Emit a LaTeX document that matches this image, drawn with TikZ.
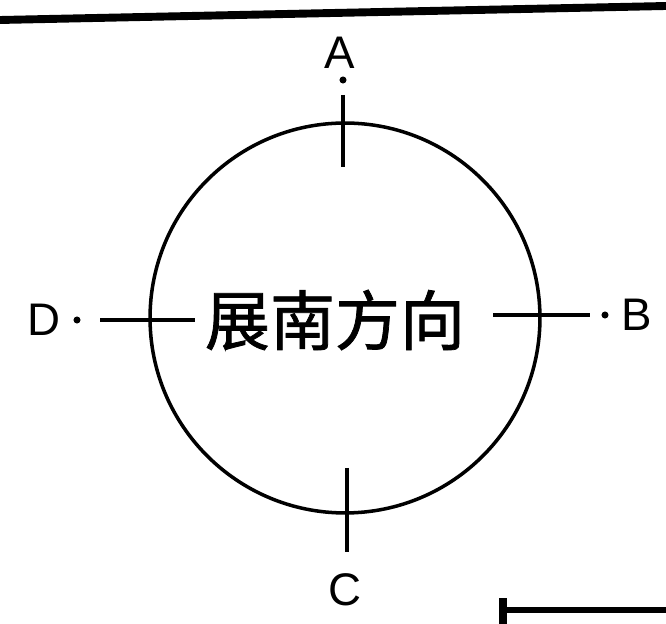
\documentclass[tikz,border=0pt]{standalone}
\usepackage{fontspec}
\setmainfont{Liberation Sans}
\newfontfamily\cjk[FakeBold=1.2]{Noto Sans CJK SC}
\usetikzlibrary{calc}

\begin{document}
\begin{tikzpicture}[x=0.02cm,y=-0.02cm,
  rim/.style={circle,draw,line width=2pt,minimum size=7.8cm,inner sep=0pt},
  axisline/.style={line width=2pt},
  lettr/.style={font=\fontsize{26}{26}\selectfont,inner sep=0pt},
  dirtext/.style={font=\cjk\fontsize{37}{37}\selectfont,inner sep=0pt}]
\useasboundingbox (0,0) rectangle (666,624);
% frame lines of the page
\draw[line width=4.5pt] (0,20) -- (666,6);
\draw[line width=3.5pt] (505,610) -- (666,610);
\draw[line width=4pt] (503,598) -- (503,624);
% the ring
\node[rim] (ring) at (345,318) {};
\node[dirtext] (dir) at (335,320) {展南方向};
% axis marks
\coordinate (topA) at (343,95);
\coordinate (topB) at (343,167);
\coordinate (botA) at (347,468);
\coordinate (botB) at (347,552);
\coordinate (lftA) at (100,320);
\coordinate (lftB) at (195,320);
\coordinate (rgtA) at (493,315);
\coordinate (rgtB) at (590,315);
\draw[axisline] (topA) -- (topB);
\draw[axisline] (botA) -- (botB);
\draw[axisline] (lftA) -- (lftB);
\draw[axisline] (rgtA) -- (rgtB);
\coordinate (dotA) at (343,80);
\coordinate (dotD) at (77,320);
\coordinate (dotB) at (605,315);
\fill (dotA) circle (2pt);
\fill (dotD) circle (2pt);
\fill (dotB) circle (2pt);
% letters
\node[lettr] (A) at (340,53) {A};
\node[lettr] (B) at (637,315) {B};
\node[lettr] (C) at (345,590) {C};
\node[lettr] (D) at (44,320) {D};
\end{tikzpicture}
\end{document}
